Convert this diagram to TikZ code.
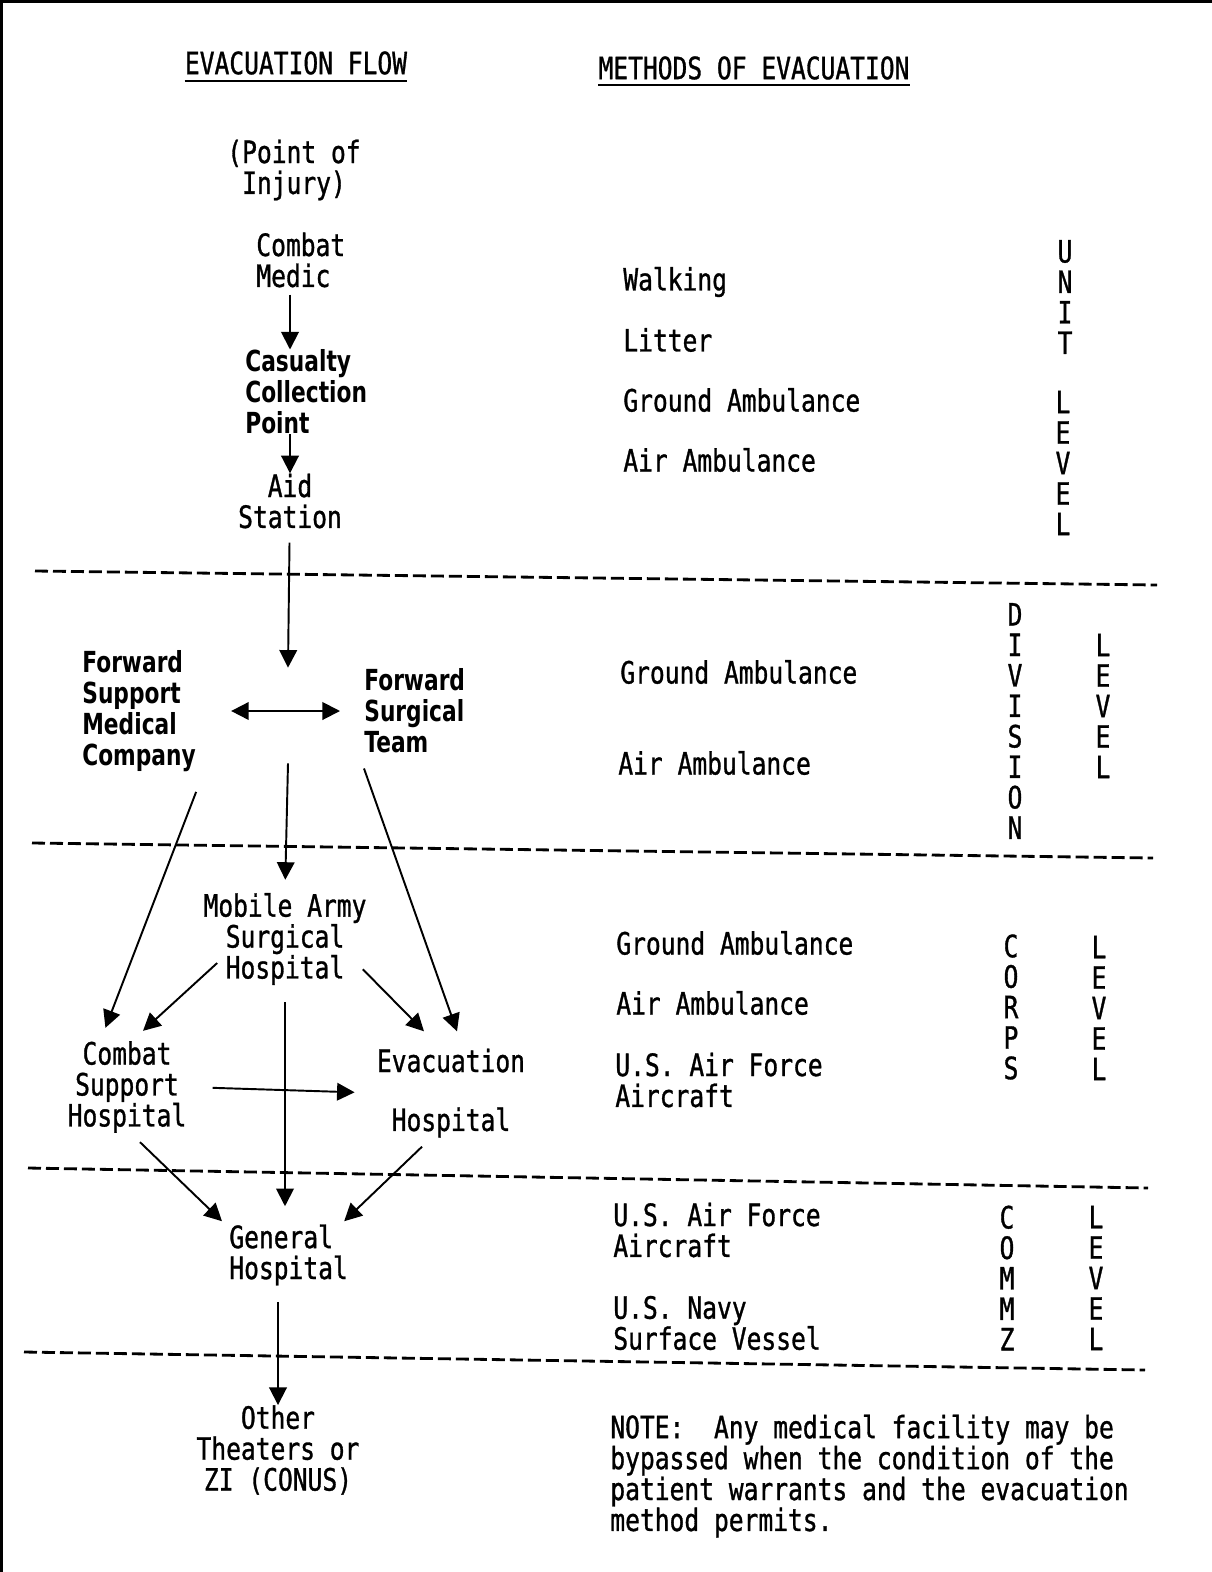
\documentclass[tikz,border=0pt]{standalone}
\usepackage{fontspec}
\usepackage{tikz}
\usetikzlibrary{arrows.meta, positioning, calc}
\newfontfamily\typefam{DejaVu Sans Mono}[FakeStretch=0.8, FakeBold=1]
\newfontfamily\heavyfam{DejaVu Sans}[FakeStretch=0.75]
\newcommand\typetxt{\typefam\fontsize{17.5}{17.6}\selectfont}
\newcommand\heavytxt{\heavyfam\bfseries\fontsize{16.5}{17.6}\selectfont}
\tikzset{
	>={Triangle[length=10pt, width=10pt]}, % solid typed arrow heads
	every node/.style={inner sep=0pt, font=\typetxt}, % typewriter text everywhere
	flow/.style={align=center}, % centred stations of the flow
	lflow/.style={align=left, anchor=west}, % left aligned stations
	heavy/.style={align=left, anchor=west, font=\heavytxt}, % the bold stations
	method/.style={align=left, anchor=west}, % methods of evacuation
	vert/.style={align=center, font=\typefam\fontsize{17.5}{17.35}\selectfont}, % letters one above the other
	link/.style={->, line width=1.1pt}, % arrows of the flow
	cut/.style={line width=1.6pt, dash pattern=on 0.26cm off 0.1cm}, % borders between levels
	uline/.style={line width=1.5pt}, % underlined headings
}
\begin{document}
\begin{tikzpicture}[x=0.02cm, y=-0.02cm]
	\useasboundingbox (0,0) rectangle (1212,1572);
	\draw[line width=1.7pt] (1.5,1572) -- (1.5,1.5) -- (1212,1.5);

	% headings
	\node (hflow) at (296,63) {EVACUATION FLOW};
	\node (hmeth) at (754,68) {METHODS OF EVACUATION};
	\draw[uline] ([yshift=-0.12cm]hflow.south west) -- ([yshift=-0.12cm]hflow.south east);
	\draw[uline] ([yshift=-0.1cm]hmeth.south west) -- ([yshift=-0.1cm]hmeth.south east);

	% evacuation flow
	\node[flow] (poi) at (294,170) {(Point of\\Injury)};
	\node[lflow] (medic) at (256,260) {Combat\\Medic};
	\node[heavy] (ccp) at (245,392) {Casualty\\Collection\\Point};
	\node[flow] (aid) at (290,501) {Aid\\Station};
	\node[minimum height=1.9cm] (hub) at (288,715.5) {};
	\node[heavy] (fsmc) at (82,711) {Forward\\Support\\Medical\\Company};
	\node[heavy] (fst) at (364,711) {Forward\\Surgical\\Team};
	\node[flow] (mash) at (285,939) {Mobile Army\\Surgical\\Hospital};
	\node[flow] (csh) at (127,1087) {Combat\\Support\\Hospital};
	\node[flow] (evac) at (451,1093) {Evacuation\\[0.56cm]Hospital};
	\node[lflow] (gh) at (229,1255) {General\\Hospital};
	\node[flow] (other) at (278,1450) {Other\\Theaters or\\ZI (CONUS)};

	\draw[link, shorten <=0.14cm] (medic.south -| aid) -- (ccp.north -| aid);
	\draw[link] (ccp.south -| aid) -- (aid.north);
	\draw[link, shorten <=0.28cm] (aid) -- (hub.north);
	\draw[link, <->, shorten <=0.7cm, shorten >=0.48cm] (fsmc.east) -- (fst.west);
	\draw[link, shorten >=0.26cm] (hub.south) -- (mash.north);
	\draw[link] ([yshift=-0.4cm]fsmc.south east) -- ([xshift=0.76cm, yshift=0.26cm]csh.north west);
	\draw[link] ([yshift=-0.3cm]fst.south west) -- ([xshift=0.12cm, yshift=0.34cm]evac.north);
	\draw[link] ([xshift=0.28cm, yshift=-0.48cm]mash.west) -- ([xshift=0.32cm, yshift=0.2cm]csh.north);
	\draw[link] ([xshift=-0.08cm, yshift=0.32cm]mash.south east) -- ([xshift=-0.54cm, yshift=0.34cm]evac.north);
	\draw[link, shorten <=0.34cm, shorten >=0.36cm] (mash.south) -- (mash.south |- gh.north);
	\draw[link, shorten <=0.52cm, shorten >=0.44cm] (csh.east) -- (evac.west);
	\draw[link] ([xshift=0.26cm, yshift=-0.18cm]csh.south) -- ([xshift=-0.14cm, yshift=0.06cm]gh.north west);
	\draw[link] ([xshift=-0.58cm, yshift=-0.18cm]evac.south) -- ([xshift=-0.08cm, yshift=0.06cm]gh.north east);
	\draw[link, shorten <=0.32cm] (gh.south -| other) -- (other.north);

	% level borders
	\draw[cut] (35,571) -- (1157,585)
		(32,843) -- (1153,858)
		(28,1168) -- (1148,1188)
		(24,1352) -- (1145,1370);

	% methods of evacuation
	\node[method] (walk) at (623,282) {Walking};
	\node[method] (litter) at (623,340) {Litter};
	\node[method] (ugrnd) at (623,400) {Ground Ambulance};
	\node[method] (uair) at (623,460) {Air Ambulance};
	\node[method] (dgrnd) at (620,672) {Ground Ambulance};
	\node[method] (dair) at (618,763) {Air Ambulance};
	\node[method] (cgrnd) at (616,943) {Ground Ambulance};
	\node[method] (cair) at (616,1003) {Air Ambulance};
	\node[method] (cusaf) at (615,1080) {U.S. Air Force\\Aircraft};
	\node[method] (zusaf) at (613,1230) {U.S. Air Force\\Aircraft};
	\node[method] (znavy) at (613,1323) {U.S. Navy\\Surface Vessel};
	\node[method] (note) at (610,1476) {NOTE:~~Any medical facility may be\\bypassed when the condition of the\\patient warrants and the evacuation\\method permits.};

	% levels
	\node[vert] (unit) at (1065,297) {U\\N\\I\\T};
	\node[vert] (ulev) at (1063,463) {L\\E\\V\\E\\L};
	\node[vert] (divn) at (1015,721) {D\\I\\V\\I\\S\\I\\O\\N};
	\node[vert] (dlev) at (1103,706) {L\\E\\V\\E\\L};
	\node[vert] (corps) at (1011,1007) {C\\O\\R\\P\\S};
	\node[vert] (clev) at (1099,1008) {L\\E\\V\\E\\L};
	\node[vert] (commz) at (1007,1278) {C\\O\\M\\M\\Z};
	\node[vert] (zlev) at (1096,1278) {L\\E\\V\\E\\L};
\end{tikzpicture}
\end{document}
